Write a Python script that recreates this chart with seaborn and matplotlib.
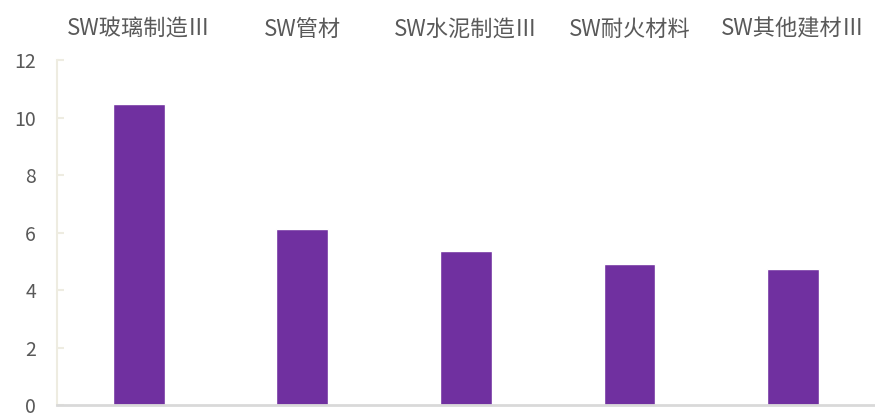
import matplotlib
matplotlib.use("Agg")
import matplotlib.pyplot as plt
import seaborn as sns
import pandas as pd

categories = ["SW玻璃制造Ⅲ", "SW管材", "SW水泥制造Ⅲ", "SW耐火材料", "SW其他建材Ⅲ"]
values = [10.48, 6.15, 5.38, 4.90, 4.76]
y_ticks = [0, 2, 4, 6, 8, 10, 12]

sns.set_theme(style="white")
plt.rcParams['font.family'] = ['Noto Sans CJK SC', 'DejaVu Sans']

df = pd.DataFrame({"cat": categories, "val": values})

fig = plt.figure(figsize=(8.75, 4.18), dpi=100)
ax = fig.add_axes([0.065, 0.03, 0.935, 0.826])
sns.barplot(data=df, x="cat", y="val", color="#7030A0", width=0.317,
            saturation=1, ax=ax)

ax.set_ylim(0, 12)
ax.set_yticks(y_ticks)
ax.set_xlim(-0.5, 4.5)
ax.set_xlabel("")
ax.set_ylabel("")
ax.xaxis.tick_top()
ax.tick_params(axis="x", length=0, pad=14, labelsize=16, labelcolor="#595959")
ax.tick_params(axis="y", direction="in", length=5, width=1.5, color="#EEECE1",
               labelsize=14, labelcolor="#595959", pad=15, left=True)

for side in ["top", "right"]:
    ax.spines[side].set_visible(False)
ax.spines["left"].set_color("#EEECE1")
ax.spines["left"].set_linewidth(1.5)
ax.spines["bottom"].set_color("#D9D9D9")
ax.spines["bottom"].set_linewidth(2)

fig.savefig("out.png", dpi=100)
